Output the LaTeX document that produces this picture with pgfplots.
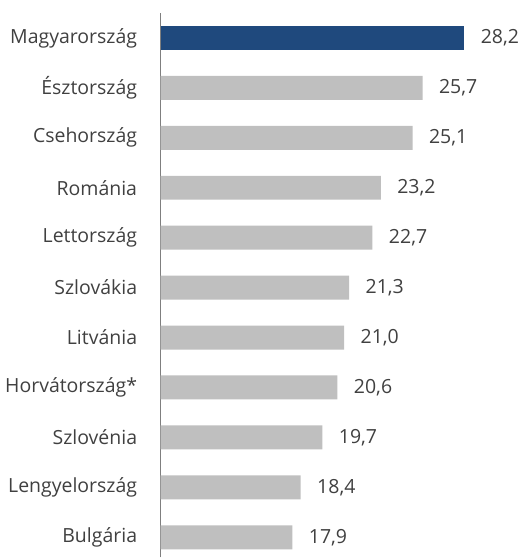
\documentclass[border=0pt]{standalone}
\usepackage{pgfplots}
\pgfplotsset{compat=1.18}
\usepackage{fontspec}
\setmainfont{Open Sans}
\definecolor{hublue}{HTML}{1F497D}
\definecolor{bargray}{HTML}{BFBFBF}
\definecolor{txt}{HTML}{404040}
\definecolor{axline}{HTML}{7F7F7F}
\begin{document}
\begin{tikzpicture}
\begin{axis}[
  name=ax,
  scale only axis,
  width=359.2pt,
  height=545pt,
  xbar,
  bar width=24pt,
  xmin=10, xmax=31.5,
  ymin=-0.4, ymax=10.5,
  axis x line=none,
  axis y line*=left,
  y axis line style={-, draw=axline, line width=1.5pt},
  ytick={0,...,10},
  yticklabels={Bulgária,Lengyelország,Szlovénia,Horvátország*,Litvánia,Szlovákia,Lettország,Románia,Csehország,Észtország,Magyarország},
  major tick length=0pt,
  yticklabel style={font=\fontsize{19.5}{22}\selectfont, text=txt, xshift=-20pt},
  nodes near coords,
  nodes near coords style={font=\fontsize{19.5}{22}\selectfont, text=txt, anchor=west, xshift=13pt},
  /pgf/number format/.cd, use comma, fixed, fixed zerofill, precision=1, assume math mode=true,
  /pgfplots/.cd,
  clip=false,
]
\addplot+[bar shift=0pt, draw=none, fill=bargray] coordinates {
  (17.9,0) (18.4,1) (19.7,2) (20.6,3) (21.0,4) (21.3,5)
  (22.7,6) (23.2,7) (25.1,8) (25.7,9)};
\addplot+[bar shift=0pt, draw=none, fill=hublue] coordinates {(28.2,10)};
\end{axis}
\path (ax.south west) ++(-160.8pt,0) coordinate (bl);
\path (ax.north east) ++(0,13pt) coordinate (tr);
\path (bl) rectangle (tr);
\end{tikzpicture}
\end{document}
